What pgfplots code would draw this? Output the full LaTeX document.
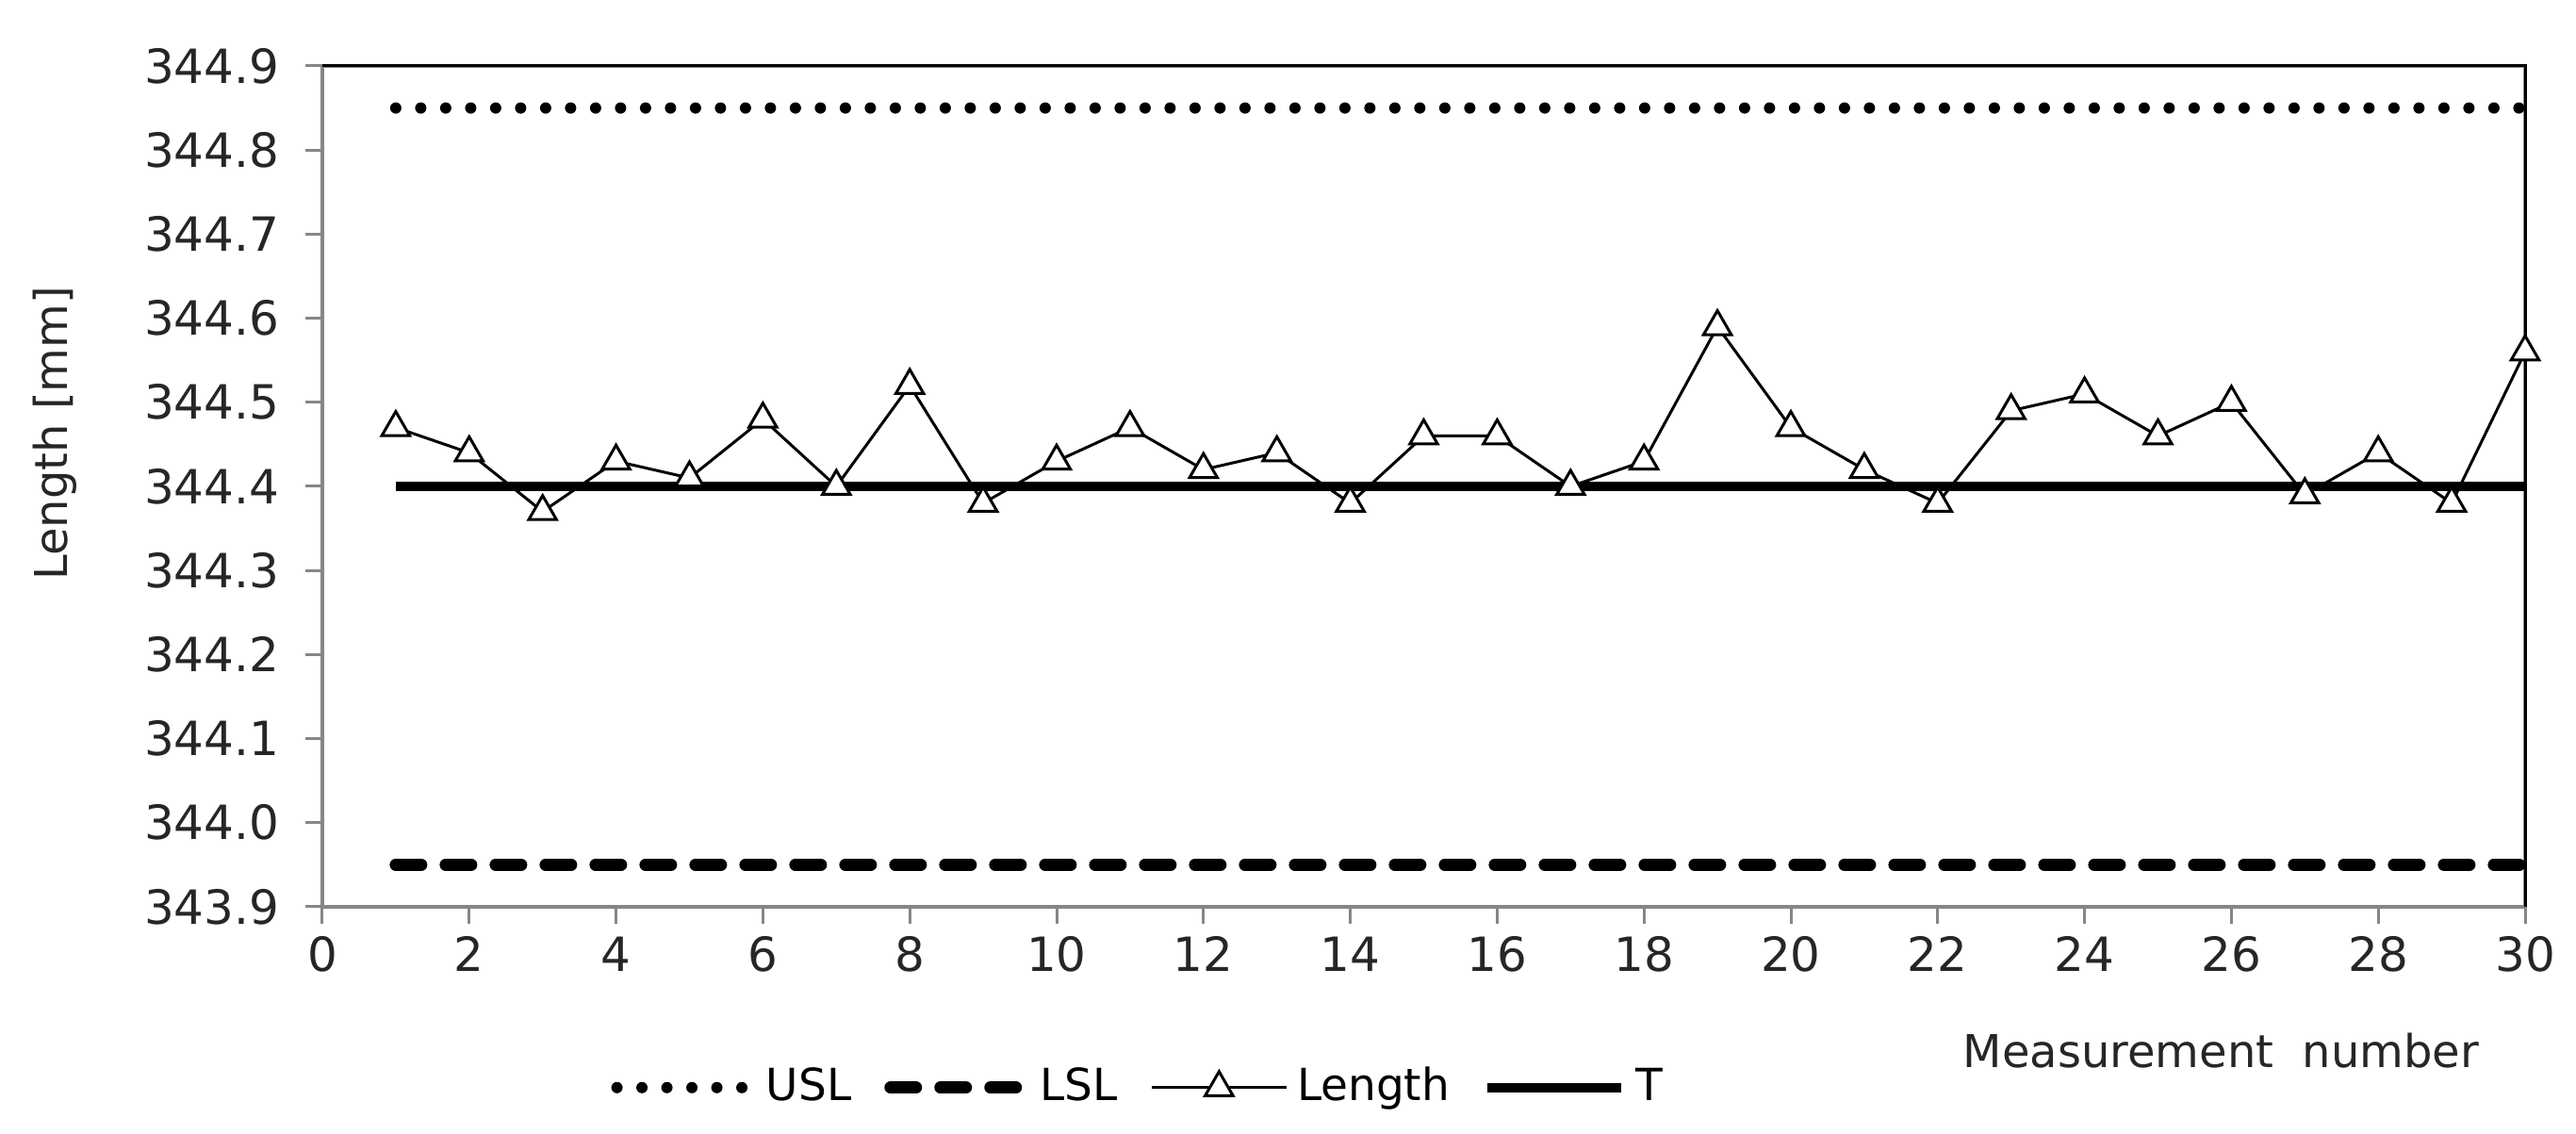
\documentclass[border=0pt]{standalone}
\usepackage{pgfplots}
\pgfplotsset{compat=1.18}
\usepackage{fontspec}
\setmainfont{DejaVu Sans}
\definecolor{axgray}{HTML}{868686}
\begin{document}
\begin{tikzpicture}
\begin{axis}[
  scale only axis,
  width=467.4pt, height=178.4pt,
  xmin=0, xmax=30, ymin=343.9, ymax=344.9,
  xtick={0,2,...,30},
  ytick={343.9,344.0,344.1,344.2,344.3,344.4,344.5,344.6,344.7,344.8,344.9},
  yticklabel style={/pgf/number format/fixed,/pgf/number format/fixed zerofill,/pgf/number format/precision=1, xshift=-2pt},
  xticklabel style={yshift=0.8pt},
  /pgf/number format/assume math mode=true,
  tick label style={font=\fontsize{10}{12}\selectfont, text=black!85},
  tick align=outside,
  xtick pos=bottom, ytick pos=left,
  major tick length=3.6pt,
  tick style={axgray, line width=0.6pt},
  axis line style={axgray, line width=0.7pt},
  legend columns=4,
  legend style={draw=none, fill=none, font=\fontsize{9.4}{11}\selectfont, at={(rel axis cs:0.372,-0.215)}, anchor=center,
    /tikz/every even column/.append style={column sep=5pt}},
  legend image code/.code={\draw[mark repeat=2, mark phase=2, #1] plot coordinates {(0cm,0cm) (0.5cm,0cm) (1.0cm,0cm)};},
  clip=false,
]
\addplot[black, line width=2.4pt, line cap=round, dash pattern=on 0pt off 5.3pt] coordinates {(1,344.85) (30,344.85)};
\addlegendentry{USL}
\addplot[black, line width=2.6pt, line cap=round, dash pattern=on 5.4pt off 5.2pt] coordinates {(1,343.95) (30,343.95)};
\addlegendentry{LSL}
\addplot[black, line width=0.6pt, mark=triangle*, mark size=3.4pt, mark options={fill=white, line width=0.6pt}] coordinates {
(1,344.47) (2,344.44) (3,344.37) (4,344.43) (5,344.41) (6,344.48) (7,344.40) (8,344.52) (9,344.38) (10,344.43)
(11,344.47) (12,344.42) (13,344.44) (14,344.38) (15,344.46) (16,344.46) (17,344.40) (18,344.43) (19,344.59) (20,344.47)
(21,344.42) (22,344.38) (23,344.49) (24,344.51) (25,344.46) (26,344.50) (27,344.39) (28,344.44) (29,344.38) (30,344.56)};
\addlegendentry{Length}
\addplot[black, line width=2pt] coordinates {(1,344.4) (30,344.4)};
\addlegendentry{T}
\draw[black, line width=0.6pt] (rel axis cs:0,1) -- (rel axis cs:1,1) -- (rel axis cs:1,0);
\node[font=\fontsize{9.6}{11}\selectfont, text=black!85] at ([yshift=-30.6pt]rel axis cs:0.862,0) {Measurement\ \ number};
\node[font=\fontsize{9.6}{11}\selectfont, text=black!85, rotate=90] at ([xshift=-56.8pt]rel axis cs:0,0.563) {Length [mm]};
\coordinate (bl) at (rel axis cs:0,0);
\coordinate (tr) at (rel axis cs:1,1);
\end{axis}
\pgfresetboundingbox
\path ([xshift=-68.4pt,yshift=-48.2pt]bl) rectangle ([xshift=10.8pt,yshift=14pt]tr);
\end{tikzpicture}
\end{document}
